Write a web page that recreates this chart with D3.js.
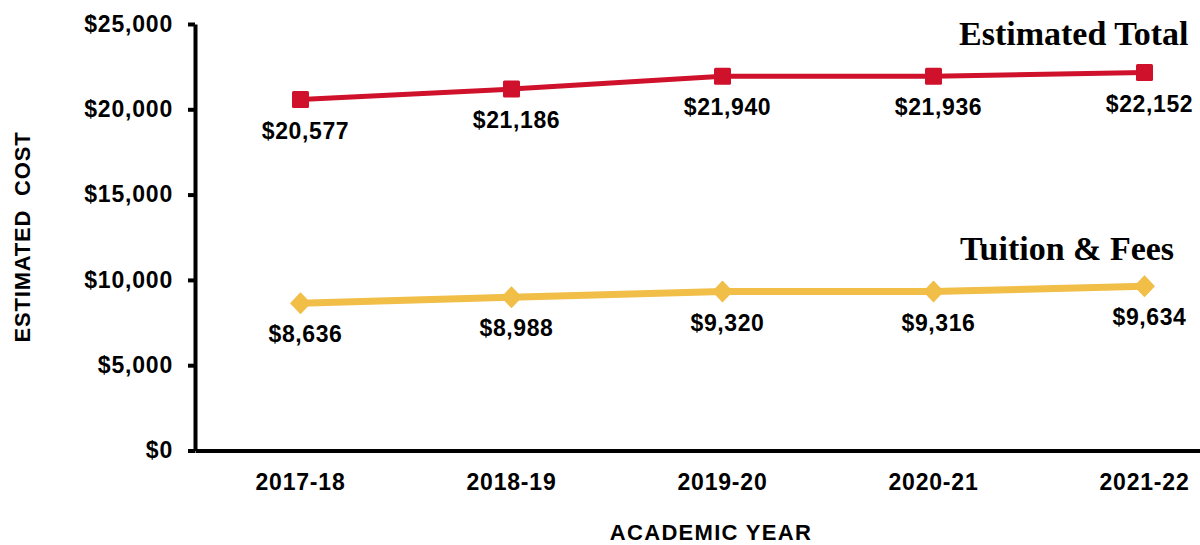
<!DOCTYPE html>
<html lang="en">
<head>
    <meta charset="UTF-8">
    <title>Estimated Cost by Academic Year</title>
    <style>
        body {
            margin: 0;
            background: #fff;
        }

        svg {
            display: block;
        }

        .axis path,
        .axis line {
            stroke: #000;
            stroke-width: 4;
        }

        .axis text {
            font-family: "Liberation Sans", Arial, sans-serif;
            font-weight: bold;
            font-size: 23px;
            letter-spacing: 0.8px;
            fill: #000;
        }

        .valueLabel {
            font-family: "Liberation Sans", Arial, sans-serif;
            font-weight: bold;
            font-size: 23px;
            letter-spacing: 0.6px;
        }

        .axisTitle {
            font-family: "Liberation Sans", Arial, sans-serif;
            font-weight: bold;
            font-size: 22px;
        }

        .seriesTitle {
            font-family: "Liberation Serif", "Times New Roman", serif;
            font-weight: bold;
            font-size: 34px;
        }
    </style>
</head>

<body>
    <svg id="chart">
        <g class="xAxis axis" />
        <g class="yAxis axis" />
        <g class="body" />
    </svg>
</body>

<script src="https://cdn.jsdelivr.net/npm/d3@7"></script>

<script>
    // data
    let years = ["2017-18", "2018-19", "2019-20", "2020-21", "2021-22"]
    let estimatedTotal = [20577, 21186, 21940, 21936, 22152]
    let tuitionFees = [8636, 8988, 9320, 9316, 9634]
    let yTicks = [0, 5000, 10000, 15000, 20000, 25000]

    let width = 1200;
    let height = 545;

    let chart = d3.select("#chart")
        .attr("width", width)
        .attr("height", height)

    let margin = { left: 195, top: 24, bottom: 94.5 }
    let bodyHeight = height - margin.top - margin.bottom;

    // band step ~211px, last band runs past the right edge like the original
    let xScale = d3.scaleBand()
        .domain(years)
        .range([margin.left, margin.left + 211 * years.length])

    let yScale = d3.scaleLinear()
        .domain([0, 25000])
        .range([margin.top + bodyHeight, margin.top])

    let xc = d => xScale(d) + xScale.bandwidth() / 2

    // axes
    chart.select(".xAxis")
        .attr("transform", `translate(0,${yScale(0)})`)
        .call(d3.axisBottom(xScale).tickSize(0).tickSizeOuter(0).tickPadding(20))
        .selectAll("text").attr("dy", "0.85em")

    chart.select(".yAxis")
        .attr("transform", `translate(${margin.left},0)`)
        .call(d3.axisLeft(yScale).tickValues(yTicks).tickSize(7).tickSizeOuter(0)
            .tickPadding(15).tickFormat(d3.format("$,")))

    let series = [
        { name: "Estimated Total", values: estimatedTotal, color: "#CF112C", width: 5, marker: "square" },
        { name: "Tuition & Fees", values: tuitionFees, color: "#F1BE48", width: 7, marker: "diamond" }
    ]

    let lineGenerator = d3.line()
        .x((d, i) => xc(years[i]))
        .y(d => yScale(d))

    let body = chart.select(".body")

    series.forEach(s => {
        body.append("path")
            .datum(s.values)
            .attr("d", lineGenerator)
            .attr("fill", "none")
            .attr("stroke", s.color)
            .attr("stroke-width", s.width)

        let markers = body.selectAll(null)
            .data(s.values)
            .enter()

        if (s.marker === "square") {
            markers.append("rect")
                .attr("x", (d, i) => xc(years[i]) - 8.5)
                .attr("y", d => yScale(d) - 8.5)
                .attr("width", 17)
                .attr("height", 17)
                .attr("rx", 1.5)
                .attr("fill", s.color)
        } else {
            markers.append("path")
                .attr("d", "M0,-10 L9.5,0 L0,10 L-9.5,0 Z")
                .attr("transform", (d, i) => `translate(${xc(years[i])},${yScale(d)})`)
                .attr("fill", s.color)
                .attr("stroke", s.color)
                .attr("stroke-linejoin", "round")
                .attr("stroke-width", 1.5)
        }

        body.selectAll(null)
            .data(s.values)
            .enter()
            .append("text")
            .attr("class", "valueLabel")
            .attr("x", (d, i) => xc(years[i]) + 5)
            .attr("y", d => yScale(d) + 31)
            .attr("dy", "0.35em")
            .attr("text-anchor", "middle")
            .text(d => d3.format("$,")(d))
    })

    // series names
    chart.append("text").attr("class", "seriesTitle")
        .attr("x", 959).attr("y", 45)
        .text("Estimated Total")

    chart.append("text").attr("class", "seriesTitle")
        .attr("x", 960).attr("y", 260)
        .text("Tuition & Fees")

    // axis titles
    chart.append("text").attr("class", "axisTitle")
        .attr("text-anchor", "middle")
        .attr("transform", "translate(30,237) rotate(-90)")
        .attr("xml:space", "preserve")
        .style("letter-spacing", "0.8px")
        .text("ESTIMATED  COST")

    chart.append("text").attr("class", "axisTitle")
        .attr("text-anchor", "middle")
        .attr("x", 711).attr("y", 540)
        .style("letter-spacing", "1.3px")
        .text("ACADEMIC YEAR")
</script>

</html>
